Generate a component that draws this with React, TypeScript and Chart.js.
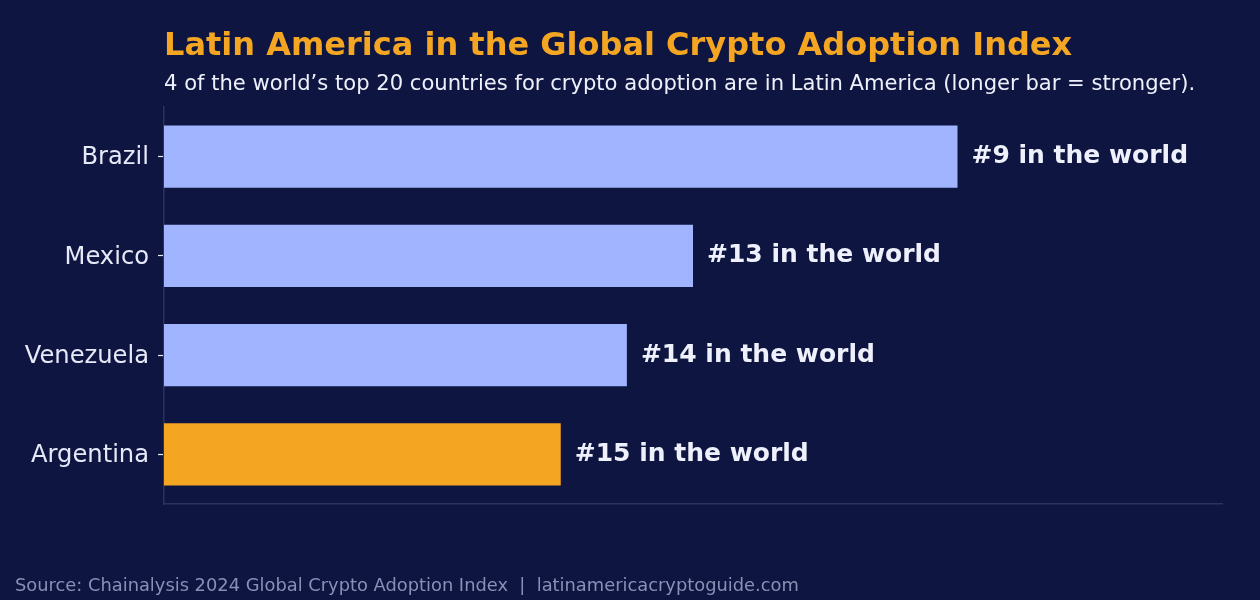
import React, { useEffect, useRef } from "react";
import { Chart, registerables } from "chart.js";

Chart.register(...registerables);

// Countries and their position in the global ranking
const countries = ["Brazil", "Mexico", "Venezuela", "Argentina"];
const worldRanks = [9, 13, 14, 15];
// Bar length: strength score, 21 − rank (longer bar = stronger)
const strengthScores = [12, 8, 7, 6];
const valueLabels = ["#9 in the world", "#13 in the world", "#14 in the world", "#15 in the world"];

const titleText = "Latin America in the Global Crypto Adoption Index";
const subtitleText =
  "4 of the world\u2019s top 20 countries for crypto adoption are in Latin America (longer bar = stronger).";
const footerText =
  "Source: Chainalysis 2024 Global Crypto Adoption Index  |  latinamericacryptoguide.com";

const BG = "#0e1540";
const BLUE = "#a0b4ff";
const ORANGE = "#f4a623";
const FONT = "DejaVu Sans";

const barColors = countries.map((c) => (c === "Argentina" ? ORANGE : BLUE));

const decorPlugin = {
  id: "decor",
  beforeDraw(chart: any) {
    const { ctx, width, height } = chart;
    ctx.save();
    ctx.fillStyle = BG;
    ctx.fillRect(0, 0, width, height);
    ctx.restore();
  },
  afterDraw(chart: any) {
    const { ctx, chartArea } = chart;
    ctx.save();
    ctx.textAlign = "left";
    ctx.textBaseline = "alphabetic";
    ctx.fillStyle = ORANGE;
    ctx.font = `bold 32px "${FONT}"`;
    ctx.fillText(titleText, chartArea.left, 54.5);
    ctx.fillStyle = "#eef0fb";
    ctx.font = `21.1px "${FONT}"`;
    ctx.fillText(subtitleText, chartArea.left, 90);
    ctx.fillStyle = "#8a90b6";
    ctx.font = `17.85px "${FONT}"`;
    ctx.fillText(footerText, 15, 591);

    // rank labels at the end of each bar
    const meta = chart.getDatasetMeta(0);
    ctx.fillStyle = "#eef0fb";
    ctx.font = `bold 25px "${FONT}"`;
    meta.data.forEach((bar: any, i: number) => {
      ctx.fillText(valueLabels[i], bar.x + 14, bar.y + 6.5);
    });
    ctx.restore();
  },
};

export default function App() {
  const canvasRef = useRef<HTMLCanvasElement | null>(null);

  useEffect(() => {
    document.body.style.margin = "0";
    document.body.style.background = BG;
    let chart: Chart | null = null;
    let cancelled = false;

    const build = () => {
      if (cancelled || !canvasRef.current) return;
      chart = new Chart(canvasRef.current, {
        type: "bar",
        data: {
          labels: countries,
          datasets: [
            {
              data: strengthScores,
              backgroundColor: barColors,
              borderWidth: 0,
              barPercentage: 0.625,
              categoryPercentage: 1,
            },
          ],
        },
        options: {
          indexAxis: "y",
          animation: false,
          responsive: false,
          devicePixelRatio: 1,
          layout: { padding: { left: 0, right: 38, top: 107, bottom: 96 } },
          plugins: {
            legend: { display: false },
            tooltip: { enabled: false },
            title: { display: false },
          },
          scales: {
            x: {
              min: 0,
              max: 16,
              ticks: { display: false },
              grid: { display: false, drawTicks: false },
              border: { display: true, color: "#2a3263", width: 1.5 },
              afterFit: (scale: any) => {
                scale.height = 0;
              },
            },
            y: {
              ticks: {
                color: "#e6e9f8",
                font: { family: FONT, size: 24.2 },
                padding: 9,
                labelOffset: 1.5,
              },
              grid: {
                offset: false,
                drawOnChartArea: false,
                drawTicks: true,
                tickLength: 6,
                tickColor: "#e6e9f8",
                tickWidth: 1.2,
              },
              border: { display: true, color: "#2a3263", width: 1.5 },
              afterFit: (scale: any) => {
                scale.width = 164;
              },
            },
          },
        },
        plugins: [decorPlugin],
      });
    };

    const fonts = (document as any).fonts;
    if (fonts && fonts.load) {
      Promise.all([
        fonts.load(`22px "${FONT}"`),
        fonts.load(`bold 22px "${FONT}"`),
      ])
        .catch(() => undefined)
        .then(build);
    } else {
      build();
    }

    return () => {
      cancelled = true;
      if (chart) chart.destroy();
    };
  }, []);

  return (
    <div style={{ position: "absolute", left: 0, top: 0, width: 1260, height: 600 }}>
      <canvas ref={canvasRef} width={1260} height={600} data-ranks={worldRanks.join(",")} />
    </div>
  );
}
